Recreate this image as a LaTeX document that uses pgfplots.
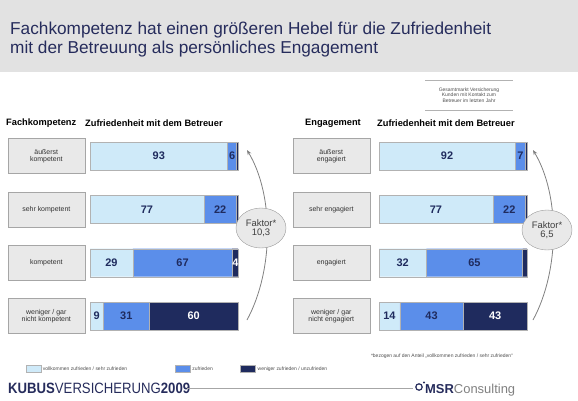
\documentclass[border=0pt]{standalone}
\usepackage{pgfplots}
\pgfplotsset{compat=1.18}
\usetikzlibrary{arrows.meta,shapes.geometric}
\usepackage{fontspec}
\setmainfont{Liberation Sans}
\definecolor{lb}{HTML}{CFEAF9}
\definecolor{mb}{HTML}{5B8EEA}
\definecolor{db}{HTML}{1F2B5E}
\definecolor{navy}{HTML}{262C5C}
\definecolor{boxgray}{HTML}{E9E9E9}
\definecolor{band}{HTML}{E2E2E2}
\newcommand{\fs}[1]{\fontsize{#1}{#1}\selectfont}

\tikzset{
  seg/.style={fill=#1, draw=gray!60, line width=0.4pt},
  num/.style={font=\bfseries\fs{11}, text=db},
}
\pgfplotsset{
  panel/.style={
    scale only axis, width=148bp, height=213.3bp,
    xbar stacked, bar width=28bp,
    xmin=0, xmax=100, ymin=-0.5, ymax=3.5, y dir=reverse,
    axis line style={draw=none}, major tick length=0pt,
    xtick=\empty, ytick={0,1,2,3},
    yticklabel style={draw=gray!70, fill=boxgray, minimum width=77bp,
      minimum height=35bp, inner sep=1bp, align=center, text=black!80,
      font=\fs{7}, xshift=-5bp},
    clip=false,
  },
}

\begin{document}
\begin{tikzpicture}[x=1bp, y=1bp]
\useasboundingbox (0,0) rectangle (578,400);
% title band
\fill[band] (0,328) rectangle (578,400);
\node[anchor=base west, align=left, text=navy, font={\fontsize{17.3}{19}\selectfont}, inner sep=0]
  at (10,347) {Fachkompetenz hat einen größeren Hebel für die Zufriedenheit\\
  mit der Betreuung als persönliches Engagement};

% sample box
\draw[gray!60, line width=0.6pt] (425,320) -- (513,320);
\draw[gray!60, line width=0.6pt] (425,290) -- (513,290);
\node[align=center, font=\fs{5}, text=black!70, inner sep=0] at (469,305)
  {Gesamtmarkt Versicherung\\[0.8bp] Kunden mit Kontakt zum\\[0.8bp] Betreuer im letzten Jahr};

% headers
\node[anchor=west, font=\bfseries\fs{9.3}, inner sep=0] at (6,277) {Fachkompetenz};
\node[anchor=west, font=\bfseries\fs{9.3}, inner sep=0] at (85,277) {Zufriedenheit mit dem Betreuer};
\node[anchor=west, font=\bfseries\fs{9.3}, inner sep=0] at (305,277) {Engagement};
\node[anchor=west, font=\bfseries\fs{9.3}, inner sep=0] at (377,277) {Zufriedenheit mit dem Betreuer};

% left panel
\begin{axis}[panel, at={(90bp,57.3bp)}, anchor=south west,
  yticklabels={äußerst\\kompetent, sehr kompetent, kompetent, weniger / gar\\nicht kompetent},
  legend columns=3,
  legend style={at={(rel axis cs:-0.437,-0.123)}, anchor=west, draw=none, fill=none,
    inner sep=0pt, font=\fs{5}, text=black!70,
    /tikz/every even column/.append style={column sep=0pt}},
  legend image code/.code={\draw[#1] (0bp,-3.5bp) rectangle (15bp,3.5bp);},
]
\addplot[seg=lb] coordinates {(93,0) (77,1) (29,2) (9,3)};
\addplot[seg=mb] coordinates {(6,0) (22,1) (67,2) (31,3)};
\addplot[seg=db] coordinates {(1,0) (1,1) (4,2) (60,3)};
\legend{\makebox[130bp][l]{vollkommen zufrieden / sehr zufrieden},
  \makebox[46bp][l]{zufrieden}, weniger zufrieden / unzufrieden}
\coordinate (a1) at (axis cs:46.5,0);
\coordinate (a2) at (axis cs:96,0);
\coordinate (a3) at (axis cs:38.5,1);
\coordinate (a4) at (axis cs:88,1);
\coordinate (a5) at (axis cs:14.5,2);
\coordinate (a6) at (axis cs:62.5,2);
\coordinate (a7) at (axis cs:98.3,2);
\coordinate (a8) at (axis cs:4.5,3);
\coordinate (a9) at (axis cs:24.5,3);
\coordinate (a10) at (axis cs:70,3);
\end{axis}
\node[num] at (a1) {93};
\node[num] at (a2) {6};
\node[num] at (a3) {77};
\node[num] at (a4) {22};
\node[num] at (a5) {29};
\node[num] at (a6) {67};
\node[num, text=white] at (a7) {4};
\node[num] at (a8) {9};
\node[num] at (a9) {31};
\node[num, text=white] at (a10) {60};

% right panel
\begin{axis}[panel, at={(379bp,57.3bp)}, anchor=south west,
  yticklabels={äußerst\\engagiert, sehr engagiert, engagiert, weniger / gar\\nicht engagiert},
  yticklabel style={xshift=-4bp},
]
\addplot[seg=lb] coordinates {(92,0) (77,1) (32,2) (14,3)};
\addplot[seg=mb] coordinates {(7,0) (22,1) (65,2) (43,3)};
\addplot[seg=db] coordinates {(1,0) (1,1) (3,2) (43,3)};
\coordinate (b1) at (axis cs:46,0);
\coordinate (b2) at (axis cs:95.5,0);
\coordinate (b3) at (axis cs:38.5,1);
\coordinate (b4) at (axis cs:88,1);
\coordinate (b5) at (axis cs:16,2);
\coordinate (b6) at (axis cs:64.5,2);
\coordinate (b7) at (axis cs:7,3);
\coordinate (b8) at (axis cs:35.5,3);
\coordinate (b9) at (axis cs:78.5,3);
\end{axis}
\node[num] at (b1) {92};
\node[num] at (b2) {7};
\node[num] at (b3) {77};
\node[num] at (b4) {22};
\node[num] at (b5) {32};
\node[num] at (b6) {65};
\node[num] at (b7) {14};
\node[num] at (b8) {43};
\node[num, text=white] at (b9) {43};

% factor arrows
\draw[gray, line width=0.8pt, -{Stealth[length=5bp,width=4bp]}]
  (247,80) .. controls (274,130) and (274,205) .. (247,250);
\draw[gray, line width=0.8pt, -{Stealth[length=5bp,width=4bp]}]
  (533,80) .. controls (560,130) and (560,205) .. (533,250);
\node[ellipse, draw=gray!80, fill=boxgray, minimum width=50bp, minimum height=40bp,
  inner sep=0, align=center, font=\fs{9.5}, text=black!75] at (261,172) {Faktor*\\10,3};
\node[ellipse, draw=gray!80, fill=boxgray, minimum width=50bp, minimum height=40bp,
  inner sep=0, align=center, font=\fs{9.5}, text=black!75] at (547,170) {Faktor*\\6,5};

% footnote
\node[anchor=east, font=\fs{5}, text=black!70, inner sep=0] at (513,44)
  {*bezogen auf den Anteil „vollkommen zufrieden / sehr zufrieden“};

% footer
\node[anchor=west, inner sep=0, text=navy] at (8,12)
  {\scalebox{0.88}[1]{\fs{15}\textbf{KUBUS}VERSICHERUNG\textbf{2009}}};
\draw[gray!70, line width=0.6pt] (187,12) -- (413,12);
\draw[navy, line width=1.2pt] (419,13) circle (3.2);
\fill[navy] (424,17.5) circle (1.2);
\node[anchor=west, inner sep=0] at (425,10)
  {\fs{13}\textcolor{navy}{\textbf{MSR}}\textcolor{gray}{Consulting}};
\end{tikzpicture}
\end{document}
